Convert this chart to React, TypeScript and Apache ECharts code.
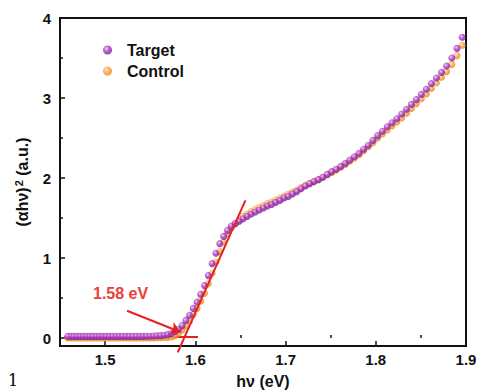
import React, { useEffect, useRef } from "react";
import * as echarts from "echarts";

// Photon energy grid (eV)
const energy = [
  1.4586, 1.4621, 1.4655, 1.469, 1.4725, 1.476, 1.4795, 1.4831, 1.4866, 1.4902,
  1.4938, 1.4974, 1.501, 1.5047, 1.5083, 1.512, 1.5157, 1.5194, 1.5232, 1.5269,
  1.5307, 1.5345, 1.5383, 1.5421, 1.5459, 1.5498, 1.5537, 1.5576, 1.5615, 1.5655,
  1.5694, 1.5734, 1.5774, 1.5814, 1.5855, 1.5896, 1.5936, 1.5977, 1.6019, 1.606,
  1.6102, 1.6144, 1.6186, 1.6228, 1.6271, 1.6314, 1.6357, 1.64, 1.6443, 1.6487,
  1.6531, 1.6575, 1.662, 1.6664, 1.6709, 1.6755, 1.68, 1.6845, 1.6891, 1.6938,
  1.6984, 1.7031, 1.7078, 1.7125, 1.7172, 1.722, 1.7268, 1.7316, 1.7365, 1.7413,
  1.7463, 1.7512, 1.7562, 1.7612, 1.7662, 1.7712, 1.7763, 1.7814, 1.7865, 1.7917,
  1.7969, 1.8021, 1.8074, 1.8127, 1.818, 1.8233, 1.8287, 1.8341, 1.8395, 1.845,
  1.8505, 1.856, 1.8616, 1.8672, 1.8729, 1.8785, 1.8843, 1.89, 1.8958,
];

// (αhν)² for the Target film
const target = [
  0.02, 0.02, 0.02, 0.02, 0.02, 0.02, 0.02, 0.02, 0.02, 0.02,
  0.02, 0.02, 0.02, 0.02, 0.02, 0.02, 0.02, 0.02, 0.02, 0.02,
  0.02, 0.02, 0.02, 0.02, 0.022, 0.022, 0.025, 0.027, 0.03, 0.034,
  0.042, 0.055, 0.078, 0.11, 0.155, 0.22, 0.285, 0.37, 0.45, 0.545,
  0.655, 0.78, 0.93, 1.06, 1.18, 1.27, 1.345, 1.4, 1.43, 1.46,
  1.49, 1.52, 1.55, 1.575, 1.6, 1.625, 1.65, 1.67, 1.695, 1.72,
  1.75, 1.77, 1.8, 1.83, 1.865, 1.9, 1.93, 1.955, 1.98, 2.01,
  2.045, 2.08, 2.11, 2.145, 2.185, 2.225, 2.265, 2.31, 2.36, 2.41,
  2.47, 2.53, 2.585, 2.64, 2.69, 2.74, 2.8, 2.86, 2.92, 2.98,
  3.045, 3.11, 3.18, 3.25, 3.32, 3.4, 3.5, 3.62, 3.76,
];

// (αhν)² for the Control film
const control = [
  0.0, 0.0, 0.0, 0.0, 0.0, 0.0, 0.0, 0.0, 0.0, 0.0,
  0.0, 0.0, 0.0, 0.0, 0.0, 0.0, 0.0, 0.0, 0.0, 0.0,
  0.0, 0.0, 0.0, 0.0, 0.0, 0.0, 0.0, 0.002, 0.004, 0.006,
  0.008, 0.012, 0.03, 0.06, 0.1, 0.15, 0.21, 0.29, 0.37, 0.46,
  0.56, 0.68, 0.81, 0.95, 1.08, 1.2, 1.3, 1.38, 1.43, 1.48,
  1.52, 1.55, 1.585, 1.61, 1.635, 1.655, 1.68, 1.7, 1.725, 1.75,
  1.775, 1.8, 1.825, 1.85, 1.88, 1.91, 1.935, 1.96, 1.98, 2.01,
  2.04, 2.07, 2.1, 2.135, 2.17, 2.21, 2.25, 2.29, 2.34, 2.39,
  2.44, 2.5, 2.55, 2.6, 2.65, 2.7, 2.75, 2.81, 2.87, 2.93,
  2.99, 3.05, 3.12, 3.19, 3.26, 3.33, 3.42, 3.53, 3.66,
];

// Linear fits used for the Tauc extrapolation
const baselineFit = [
  [1.455, 0.012],
  [1.603, 0.012],
];
const edgeFit = [
  [1.5805, -0.18],
  [1.6555, 1.72],
];
const arrowFrom = [1.5243, 0.34];
const arrowTo = [1.5834, 0.075];
const bandGapLabel = "1.58 eV";

const xMajor = [1.5, 1.6, 1.7, 1.8, 1.9];
const xMinor = [1.55, 1.65, 1.75, 1.85];
const yMajor = [0, 1, 2, 3, 4];
const yMinor = [0.5, 1.5, 2.5, 3.5];

const FONT = "'Liberation Sans', Arial, sans-serif";
const INK = "#111";
const RED = "#e8201f";

const ball = (light: string, mid: string, dark: string) => ({
  type: "radial",
  x: 0.38,
  y: 0.35,
  r: 0.7,
  colorStops: [
    { offset: 0, color: light },
    { offset: 0.45, color: mid },
    { offset: 1, color: dark },
  ],
});

export default function App() {
  const ref = useRef<HTMLDivElement>(null);

  useEffect(() => {
    if (!ref.current) return;
    const chart = echarts.init(ref.current, null, { renderer: "svg" });

    const pts = (ys: number[]) => energy.map((x, i) => [x, ys[i]]);

    const labelStyle = {
      fontFamily: FONT,
      fontWeight: "bold" as const,
      fontSize: 15,
      color: INK,
    };
    const nameStyle = { ...labelStyle, fontSize: 16 };

    const baseX = {
      type: "value",
      min: 1.45,
      max: 1.9,
      position: "bottom",
      splitLine: { show: false },
    };
    const baseY = {
      type: "value",
      min: -0.1,
      max: 4,
      position: "left",
      splitLine: { show: false },
    };

    chart.setOption({
      animation: false,
      backgroundColor: "#fff",
      grid: {
        left: 60,
        right: 11,
        top: 18,
        bottom: 46,
        show: true,
        borderColor: INK,
        borderWidth: 2,
        containLabel: false,
        outerBoundsMode: "none",
      },
      legend: {
        data: ["Target", "Control"],
        orient: "vertical",
        left: 98,
        top: 37,
        icon: "circle",
        itemWidth: 9,
        itemHeight: 9,
        itemGap: 5,
        textStyle: {
          fontFamily: FONT,
          fontWeight: "bold",
          fontSize: 16,
          color: INK,
          padding: [0, 0, 0, 10],
        },
      },
      xAxis: [
        {
          ...baseX,
          name: "hν (eV)",
          nameLocation: "middle",
          nameGap: 27,
          nameTextStyle: nameStyle,
          axisLine: { show: true, onZero: false, lineStyle: { color: INK, width: 2 } },
          axisTick: {
            show: true,
            inside: true,
            length: 5,
            customValues: xMajor,
            lineStyle: { color: INK, width: 1.5 },
          },
          axisLabel: {
            ...labelStyle,
            customValues: xMajor,
            margin: 6,
            formatter: (v: number) => v.toFixed(1),
          },
        },
        {
          ...baseX,
          axisLine: { show: false },
          axisTick: {
            show: true,
            inside: true,
            length: 3,
            customValues: xMinor,
            lineStyle: { color: INK, width: 1.5 },
          },
          axisLabel: { show: false },
        },
      ],
      yAxis: [
        {
          ...baseY,
          name: "{a|(αhν)}{s|2}{a| (a.u.)}",
          nameLocation: "middle",
          nameGap: 28,
          nameTextStyle: {
            ...nameStyle,
            rich: {
              a: { ...nameStyle },
              s: { ...nameStyle, fontSize: 11, padding: [0, 0, 8, 1] },
            },
          },
          axisLine: { show: true, onZero: false, lineStyle: { color: INK, width: 2 } },
          axisTick: {
            show: true,
            inside: true,
            length: 5,
            customValues: yMajor,
            lineStyle: { color: INK, width: 1.5 },
          },
          axisLabel: {
            ...labelStyle,
            customValues: yMajor,
            margin: 9,
            formatter: (v: number) => String(Math.round(v)),
          },
        },
        {
          ...baseY,
          axisLine: { show: false },
          axisTick: {
            show: true,
            inside: true,
            length: 3,
            customValues: yMinor,
            lineStyle: { color: INK, width: 1.5 },
          },
          axisLabel: { show: false },
        },
      ],
      series: [
        {
          name: "baseline",
          type: "line",
          data: baselineFit,
          showSymbol: false,
          symbol: "none",
          clip: false,
          z: 1,
          lineStyle: { color: RED, width: 2 },
          silent: true,
        },
        {
          name: "Control",
          type: "scatter",
          data: pts(control),
          symbol: "circle",
          symbolSize: 7,
          z: 2,
          itemStyle: { color: ball("#ffe2b8", "#f7a444", "#e2801c") },
        },
        {
          name: "Target",
          type: "scatter",
          data: pts(target),
          symbol: "circle",
          symbolSize: 7,
          z: 3,
          itemStyle: { color: ball("#efc2f7", "#a83ac4", "#76188f") },
        },
        {
          name: "edge",
          type: "line",
          data: edgeFit,
          showSymbol: false,
          symbol: "none",
          clip: false,
          z: 4,
          lineStyle: { color: RED, width: 2 },
          silent: true,
          markLine: {
            silent: true,
            symbol: ["none", "arrow"],
            symbolSize: 10,
            label: { show: false },
            lineStyle: { color: RED, width: 2, type: "solid" },
            data: [[{ coord: arrowFrom }, { coord: arrowTo }]],
          },
        },
      ],
      graphic: [
        {
          type: "text",
          left: 93,
          top: 285,
          style: {
            text: bandGapLabel,
            fill: "#e8403c",
            font: `bold 16px ${FONT}`,
          },
        },
        {
          type: "text",
          left: 8,
          top: 372,
          style: { text: "1", fill: "#000", font: "16px 'DejaVu Serif', serif" },
        },
      ],
    });

    return () => chart.dispose();
  }, []);

  return (
    <div
      ref={ref}
      style={{ position: "fixed", left: 0, top: 0, width: 477, height: 392, background: "#fff" }}
    />
  );
}
